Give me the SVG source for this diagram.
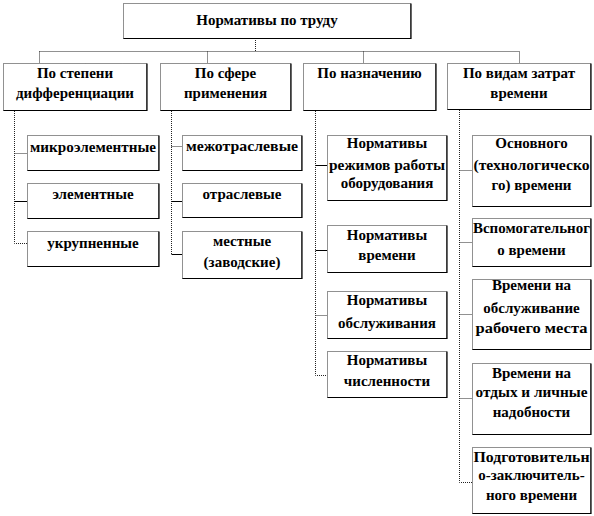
<svg xmlns="http://www.w3.org/2000/svg" width="594" height="516" viewBox="0 0 594 516">
<style>
.box{fill:#fff;stroke:#222;stroke-width:1;stroke-dasharray:1 1}
.sh{fill:none;stroke:#000;stroke-width:1.2}
.c{fill:none;stroke:#222;stroke-width:1;stroke-dasharray:1 1}
.s{fill:none;stroke:#000;stroke-width:1}
text{font-family:"Liberation Serif","Times New Roman",serif !important;font-weight:bold;font-size:15px;text-anchor:middle;fill:#000}
</style>
<rect width="594" height="516" fill="#fff"/>
<g id="connectors">
<path class="c" d="M255.5 38V51.5M39.5 51.5H519.5M39.5 51.5V63M207.5 51.5V63M363.5 51.5V63M519.5 51.5V63"/>
<path class="c" d="M14.5 111V243.5H27M14.5 153.5H27"/>
<path class="s" d="M14.5 201.5H27"/>
<path class="c" d="M171.5 111V254.5M171.5 146.5H182"/>
<path class="s" d="M171.5 201.5H182M171.5 254.5H182"/>
<path class="c" d="M315.5 111V375.5H327M315.5 315.5H327"/>
<path class="s" d="M315.5 165.5H327M315.5 250.5H327"/>
<path class="c" d="M459.5 110V482.5H472M459.5 170.5H472M459.5 242.5H472M459.5 314.5H472M459.5 398.5H472"/>
</g>
<g id="root">
<rect class="box" x="123.5" y="3.5" width="287" height="35"/><path class="sh" d="M411 3.5V38.5H123.5"/>
<text x="267" y="25">Нормативы по труду</text>
</g>
<g id="h1">
<rect class="box" x="3.5" y="63.5" width="143" height="47"/><path class="sh" d="M147 63.5V110.5H3.5"/>
<text x="75" y="78">По степени</text><text x="75" y="98">дифференциации</text>
</g>
<g id="h2">
<rect class="box" x="160.5" y="63.5" width="130" height="47"/><path class="sh" d="M291 63.5V110.5H160.5"/>
<text x="225.5" y="78">По сфере</text><text x="225.5" y="98">применения</text>
</g>
<g id="h3">
<rect class="box" x="303.5" y="63.5" width="132" height="47"/><path class="sh" d="M436 63.5V110.5H303.5"/>
<text x="369.5" y="78">По назначению</text>
</g>
<g id="h4">
<rect class="box" x="447.5" y="63.5" width="143" height="46"/><path class="sh" d="M591 63.5V109.5H447.5"/>
<text x="519" y="78">По видам затрат</text><text x="519" y="98">времени</text>
</g>
<g id="n11">
<rect class="box" x="27.5" y="135.5" width="131" height="35"/><path class="sh" d="M159 135.5V170.5H27.5"/>
<text x="93" y="152" textLength="126" lengthAdjust="spacingAndGlyphs">микроэлементные</text>
</g>
<g id="n12">
<rect class="box" x="27.5" y="183.5" width="131" height="35"/><path class="sh" d="M159 183.5V218.5H27.5"/>
<text x="93" y="199">элементные</text>
</g>
<g id="n13">
<rect class="box" x="27.5" y="231.5" width="131" height="35"/><path class="sh" d="M159 231.5V266.5H27.5"/>
<text x="93" y="248">укрупненные</text>
</g>
<g id="n21">
<rect class="box" x="182.5" y="135.5" width="119" height="35"/><path class="sh" d="M302 135.5V170.5H182.5"/>
<text x="242" y="151" textLength="112" lengthAdjust="spacingAndGlyphs">межотраслевые</text>
</g>
<g id="n22">
<rect class="box" x="182.5" y="183.5" width="119" height="34"/><path class="sh" d="M302 183.5V217.5H182.5"/>
<text x="242" y="199">отраслевые</text>
</g>
<g id="n23">
<rect class="box" x="182.5" y="231.5" width="119" height="47"/><path class="sh" d="M302 231.5V278.5H182.5"/>
<text x="242" y="246">местные</text><text x="242" y="267">(заводские)</text>
</g>
<g id="n31">
<rect class="box" x="327.5" y="135.5" width="119" height="65"/><path class="sh" d="M447 135.5V200.5H327.5"/>
<text x="387" y="148">Нормативы</text><text x="387" y="170" textLength="116" lengthAdjust="spacingAndGlyphs">режимов работы</text><text x="387" y="188">оборудования</text>
</g>
<g id="n32">
<rect class="box" x="327.5" y="225.5" width="119" height="47"/><path class="sh" d="M447 225.5V272.5H327.5"/>
<text x="387" y="240">Нормативы</text><text x="387" y="260">времени</text>
</g>
<g id="n33">
<rect class="box" x="327.5" y="291.5" width="119" height="47"/><path class="sh" d="M447 291.5V338.5H327.5"/>
<text x="387" y="305">Нормативы</text><text x="387" y="328">обслуживания</text>
</g>
<g id="n34">
<rect class="box" x="327.5" y="351.5" width="119" height="46"/><path class="sh" d="M447 351.5V397.5H327.5"/>
<text x="387" y="365">Нормативы</text><text x="387" y="386">численности</text>
</g>
<g id="n41">
<rect class="box" x="472.5" y="135.5" width="118" height="71"/><path class="sh" d="M591 135.5V206.5H472.5"/>
<text x="531.5" y="148">Основного</text><text x="531.5" y="170" textLength="116" lengthAdjust="spacingAndGlyphs">(технологическо</text><text x="531.5" y="190">го) времени</text>
</g>
<g id="n42">
<rect class="box" x="472.5" y="218.5" width="118" height="48"/><path class="sh" d="M591 218.5V266.5H472.5"/>
<text x="531.5" y="233" textLength="117" lengthAdjust="spacingAndGlyphs">Вспомогательног</text><text x="531.5" y="255">о времени</text>
</g>
<g id="n43">
<rect class="box" x="472.5" y="279.5" width="118" height="70"/><path class="sh" d="M591 279.5V349.5H472.5"/>
<text x="531.5" y="290">Времени на</text><text x="531.5" y="313">обслуживание</text><text x="531.5" y="333" textLength="112" lengthAdjust="spacingAndGlyphs">рабочего места</text>
</g>
<g id="n44">
<rect class="box" x="472.5" y="363.5" width="118" height="71"/><path class="sh" d="M591 363.5V434.5H472.5"/>
<text x="531.5" y="378">Времени на</text><text x="531.5" y="397" textLength="112" lengthAdjust="spacingAndGlyphs">отдых и личные</text><text x="531.5" y="417">надобности</text>
</g>
<g id="n45">
<rect class="box" x="472.5" y="447.5" width="118" height="66"/><path class="sh" d="M591 447.5V513.5H472.5"/>
<text x="531.5" y="462" textLength="116" lengthAdjust="spacingAndGlyphs">Подготовительн</text><text x="531.5" y="480">о-заключитель-</text><text x="531.5" y="500">ного времени</text>
</g>
</svg>
